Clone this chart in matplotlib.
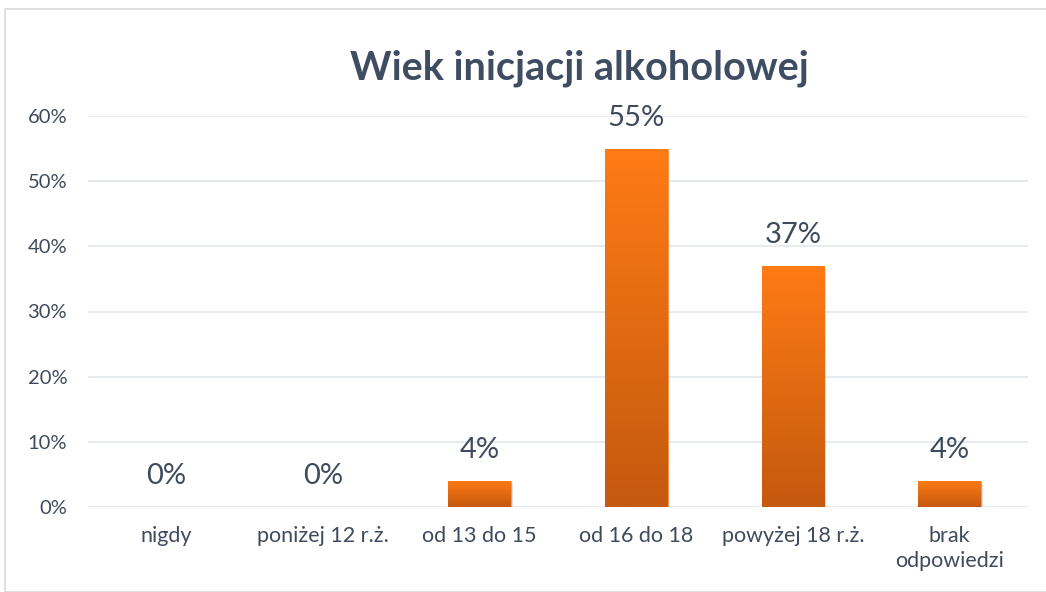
import numpy as np
import matplotlib.pyplot as plt
from matplotlib.colors import LinearSegmentedColormap
from matplotlib.patches import Rectangle

# data
categories = ['nigdy', 'poniżej 12 r.ż.', 'od 13 do 15', 'od 16 do 18',
              'powyżej 18 r.ż.', 'brak\nodpowiedzi']
values = [0, 0, 4, 55, 37, 4]
yticks = [0, 10, 20, 30, 40, 50, 60]

plt.rcParams['font.family'] = ['Lato', 'DejaVu Sans']
text_col = '#3f4a5c'

fig = plt.figure(figsize=(10.46, 5.92), dpi=100)
ax = fig.add_axes([88 / 1046, 1 - 507 / 592, (1028 - 88) / 1046, (507 - 116) / 592])

# light frame around the whole chart
fig.patches.append(Rectangle((5 / 1046, 0), 1.0, 1 - 9 / 592, transform=fig.transFigure,
                             fill=False, edgecolor='#d9d9d9', linewidth=1.2))

x = np.arange(len(categories))
width = 0.4
cmap = LinearSegmentedColormap.from_list('orange', ['#c4590f', '#ff7b15'])
grad = np.linspace(0, 1, 256).reshape(-1, 1)

for xi, v in zip(x, values):
    if v > 0:
        # faint shadow
        ax.add_patch(Rectangle((xi - width / 2 + 0.01, -0.5), width, v, facecolor='#000000',
                               alpha=0.12, edgecolor='none', zorder=2))
        bar = ax.bar(xi, v, width, color='none', edgecolor='#ff8a30', linewidth=0.6, zorder=3)[0]
        im = ax.imshow(grad, cmap=cmap, origin='lower', aspect='auto',
                       extent=[xi - width / 2, xi + width / 2, 0, v], zorder=3)
        im.set_clip_path(bar)
    ax.text(xi, v + 2.7, f'{v}%', ha='center', va='bottom', fontsize=21, color=text_col)

ax.set_xlim(-0.5, len(categories) - 0.5)
ax.set_ylim(0, 60)
ax.set_yticks(yticks)
ax.set_yticklabels([f'{t}%' for t in yticks])
ax.set_xticks(x)
ax.set_xticklabels(categories, linespacing=1.3)
ax.tick_params(axis='y', length=0, pad=15, labelsize=14.5, labelcolor=text_col)
ax.tick_params(axis='x', length=0, pad=14, labelsize=15.5, labelcolor=text_col)
ax.grid(axis='y', color='#e3e7ec', linewidth=1.2, zorder=0)
ax.set_axisbelow(True)
for s in ax.spines.values():
    s.set_visible(False)

fig.text(579 / 1046, 1 - 68 / 592, 'Wiek inicjacji alkoholowej', ha='center', va='center',
         fontsize=28.5, fontweight='bold', color='#3f4d63')

fig.savefig('out.png', dpi=100)
